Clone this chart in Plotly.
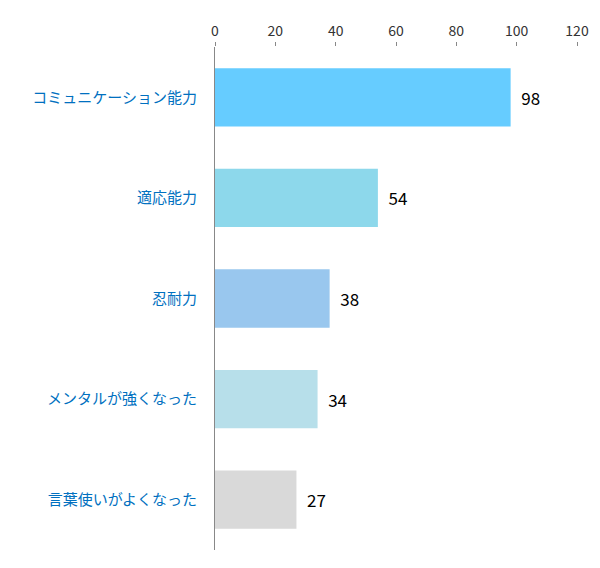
import plotly.graph_objects as go

categories = ["コミュニケーション能力", "適応能力", "忍耐力", "メンタルが強くなった", "言葉使いがよくなった"]
values = [98, 54, 38, 34, 27]
colors = ["#66CCFF", "#8DD8EB", "#99C7EE", "#B7DFEA", "#D9D9D9"]
tick_vals = [0, 20, 40, 60, 80, 100, 120]

fig = go.Figure(go.Bar(
    y=categories, x=values, orientation="h",
    marker=dict(color=colors, line=dict(width=0)),
    text=["  " + str(v) for v in values], textposition="outside",
    textfont=dict(size=17, color="black", family="Noto Sans CJK JP"),
    cliponaxis=False, width=0.58,
))
fig.update_layout(
    width=600, height=568, paper_bgcolor="white", plot_bgcolor="white",
    margin=dict(l=207, r=31, t=27, b=26),
    showlegend=False,
    font=dict(family="Noto Sans CJK JP"),
)
fig.update_xaxes(side="top", range=[0, 120], tickvals=tick_vals, showgrid=False,
                 zeroline=False, showline=False, ticks="outside", ticklen=4,
                 tickcolor="#888", tickfont=dict(size=14, color="#333"))
fig.update_yaxes(autorange="reversed", showgrid=False, showline=True, linecolor="#888",
                 linewidth=1, ticks="", ticklabelstandoff=14,
                 tickfont=dict(size=15, color="#0070C0"))
fig.write_html("out.html")
